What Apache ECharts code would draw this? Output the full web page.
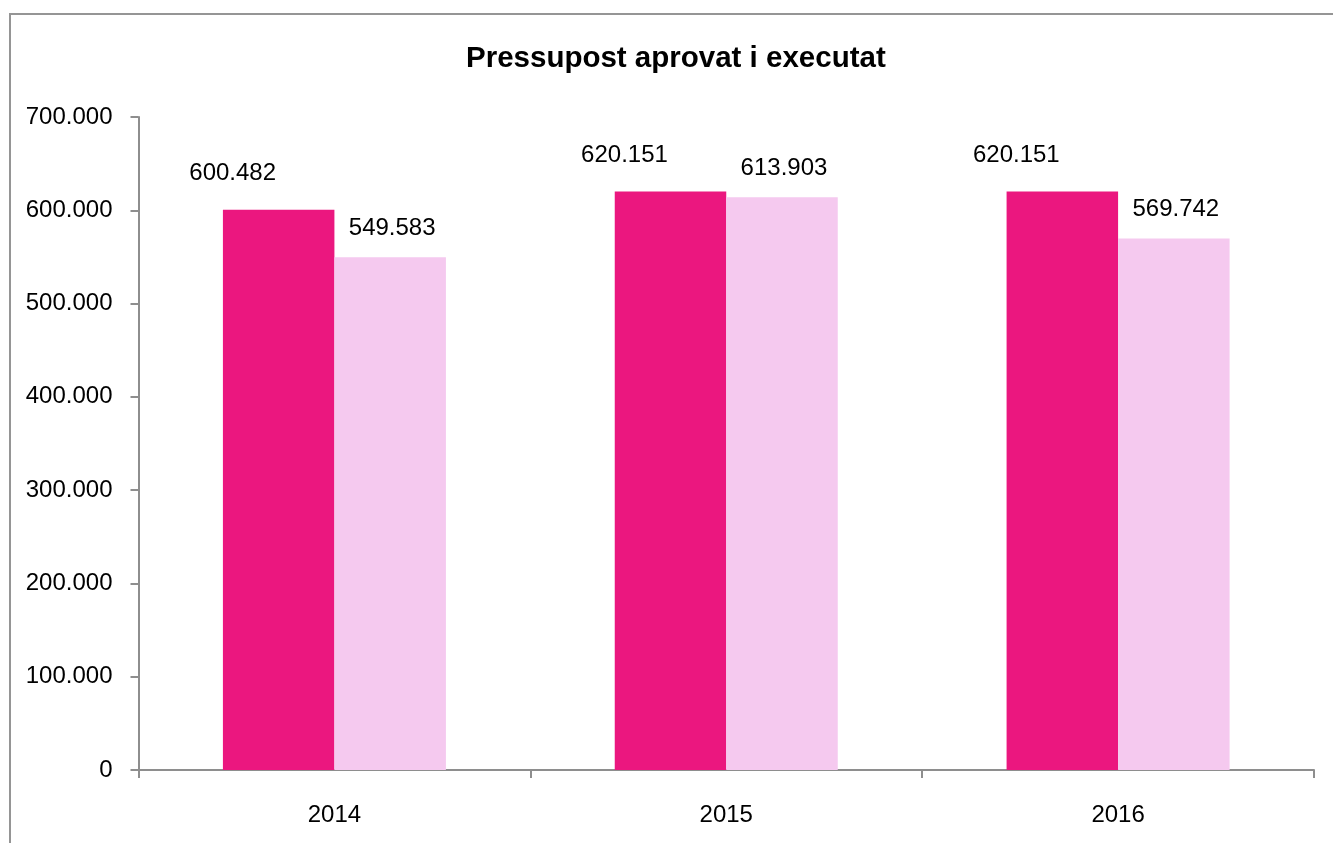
<!DOCTYPE html>
<html>
<head>
<meta charset="utf-8">
<script src="https://cdn.jsdelivr.net/npm/echarts@6/dist/echarts.min.js"></script>
<style>
html,body{margin:0;padding:0;background:#fff;}
#chart{width:1333px;height:843px;}
</style>
</head>
<body>
<div id="chart"></div>
<script>
const titleText = 'Pressupost aprovat i executat';
const categories = ['2014', '2015', '2016'];
const aprovat = [600482, 620151, 620151];
const executat = [549583, 613903, 569742];
const yTicks = [0, 100000, 200000, 300000, 400000, 500000, 600000, 700000];

function fmt(v) {
  if (v === 0) return '0';
  const s = String(Math.round(v));
  return s.replace(/\B(?=(\d{3})+(?!\d))/g, '.');
}

const FONT = '"Liberation Sans", Arial, sans-serif';
const AXIS = '#8e8e8e';

const chart = echarts.init(document.getElementById('chart'), null, {renderer: 'canvas'});
chart.setOption({
  animation: false,
  backgroundColor: '#fff',
  title: {
    text: titleText,
    left: 466,
    top: 44,
    padding: 0,
    textStyle: {fontFamily: '"Liberation Sans", Arial, sans-serif', fontWeight: 'bold', fontSize: 29.5, color: '#000'}
  },
  graphic: [{
    type: 'rect', silent: true, z: -1,
    shape: {x: 10, y: 14, width: 1500, height: 1000},
    style: {fill: 'none', stroke: '#959595', lineWidth: 2}
  }],
  grid: {left: 138.5, right: 19, top: 117, bottom: 73, containLabel: false},
  xAxis: {
    type: 'category',
    data: categories,
    axisLine: {show: true, lineStyle: {color: AXIS, width: 2}},
    axisTick: {show: true, length: 8, alignWithLabel: false, lineStyle: {color: AXIS, width: 2}},
    axisLabel: {margin: 33, fontFamily: FONT, fontSize: 24, color: '#000'},
    splitLine: {show: false}
  },
  yAxis: {
    type: 'value',
    min: yTicks[0],
    max: yTicks[yTicks.length - 1],
    interval: yTicks[1] - yTicks[0],
    axisLine: {show: true, lineStyle: {color: AXIS, width: 2}},
    axisTick: {show: true, length: 8, lineStyle: {color: AXIS, width: 2}},
    axisLabel: {margin: 26, fontFamily: FONT, fontSize: 24, color: '#000', formatter: fmt},
    splitLine: {show: false}
  },
  series: [{
    name: 'Aprovat',
    type: 'bar',
    data: aprovat,
    barWidth: 111.5,
    barGap: '0%',
    itemStyle: {color: '#EB177F'},
    label: {
      show: true, position: 'top', distance: 24, offset: [-46, 0],
      fontFamily: FONT, fontSize: 24, color: '#000',
      formatter: p => fmt(p.value)
    }
  }, {
    name: 'Executat',
    type: 'bar',
    data: executat,
    barWidth: 111.5,
    barGap: '0%',
    itemStyle: {color: '#F5C9EF'},
    label: {
      show: true, position: 'top', distance: 17, offset: [2, 0],
      fontFamily: FONT, fontSize: 24, color: '#000',
      formatter: p => fmt(p.value)
    }
  }]
});
</script>
</body>
</html>
